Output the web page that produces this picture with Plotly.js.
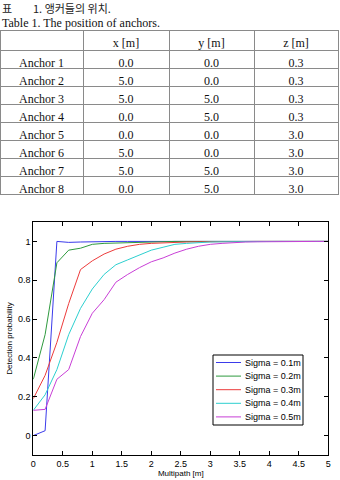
<!DOCTYPE html>
<html>
<head>
<meta charset="utf-8">
<script src="https://cdn.plot.ly/plotly-3.0.1.min.js"></script>
<style>html,body{margin:0;padding:0;background:#fff;}#chart{width:340px;height:480px;}</style>
</head>
<body>
<div id="chart"></div>
<script>
// ---- table data ----
const tableHeader = ['', 'x [m]', 'y [m]', 'z [m]'];
const anchorNames = ['Anchor 1','Anchor 2','Anchor 3','Anchor 4','Anchor 5','Anchor 6','Anchor 7','Anchor 8'];
const anchorX = ['0.0','5.0','5.0','0.0','0.0','5.0','5.0','0.0'];
const anchorY = ['0.0','0.0','5.0','5.0','0.0','0.0','5.0','5.0'];
const anchorZ = ['0.3','0.3','0.3','0.3','3.0','3.0','3.0','3.0'];

// ---- chart data ----
const multipath = [0,0.2,0.4,0.6,0.8,1.0,1.2,1.4,1.6,1.8,2.0,2.2,2.4,2.6,2.8,3.0,3.2,3.4,3.6,3.8,4.0,4.2,4.4,4.6,4.8,5.0];
const sigma01 = [0,0.025,1.0,0.995,0.997,0.999,1,1,1,1,1,1,1,1,1,1,1,1,1,1,1,1,1,1,1,1];
const sigma02 = [0.29,0.52,0.89,0.955,0.965,0.985,0.99,0.992,0.995,0.997,0.998,0.999,1,1,1,1,1,1,1,1,1,1,1,1,1,1];
const sigma03 = [0.19,0.31,0.48,0.68,0.855,0.90,0.935,0.96,0.975,0.985,0.99,0.993,0.995,0.997,0.998,0.999,1,1,1,1,1,1,1,1,1,1];
const sigma04 = [0.13,0.21,0.34,0.52,0.655,0.755,0.83,0.88,0.905,0.93,0.955,0.97,0.985,0.99,0.995,0.997,0.998,0.999,1,1,1,1,1,1,1,1];
const sigma05 = [0.13,0.135,0.29,0.34,0.51,0.63,0.70,0.79,0.83,0.865,0.895,0.915,0.94,0.96,0.975,0.985,0.99,0.995,0.997,0.998,0.999,1,1,1,1,1];
const seriesNames = ['Sigma = 0.1m','Sigma = 0.2m','Sigma = 0.3m','Sigma = 0.4m','Sigma = 0.5m'];
const seriesColors = ['#3b3bea','#2e9a3e','#ec3b3b','#2ccfcf','#c83fd6'];
const xTitle = 'Multipath [m]';
const yTitle = 'Detection probability';

const W = 340, H = 480;
const serif = 'Liberation Serif, Times New Roman, serif';
const sans = 'Liberation Sans, Arial, Helvetica, sans-serif';
const px = v => v / W;
const py = v => 1 - v / H;

const seriesData = [sigma01, sigma02, sigma03, sigma04, sigma05];
const traces = seriesData.map((ys, i) => ({
  type: 'scatter', mode: 'lines', x: multipath, y: ys, name: seriesNames[i],
  line: {color: seriesColors[i], width: 1}, xaxis: 'x', yaxis: 'y', showlegend: false
}));

traces.push({
  type: 'table',
  domain: {x: [0, px(338)], y: [py(196), py(30)]},
  columnwidth: [83, 86, 85, 84],
  header: {
    values: tableHeader,
    align: 'center',
    height: 20,
    line: {color: '#8a8a8a', width: 1},
    fill: {color: '#ffffff'},
    font: {family: serif, size: 12, color: '#111'}
  },
  cells: {
    values: [anchorNames, anchorX, anchorY, anchorZ],
    align: 'center',
    height: 18,
    line: {color: '#8a8a8a', width: 1},
    fill: {color: '#ffffff'},
    font: {family: serif, size: 12, color: '#111'}
  }
});

const axisCommon = {
  showgrid: false, zeroline: false, showline: true, linecolor: '#000', linewidth: 1,
  mirror: 'allticks', ticks: 'inside', ticklen: 4, tickcolor: '#000', tickwidth: 1,
  tickfont: {family: sans, size: 9, color: '#000'}
};

// legend (drawn as paper-positioned decorations, built from the series names/colours)
const legBox = {x0: 213, x1: 303, y0: 355, y1: 425};
const legStep = 13.6, legFirst = 362.5;
const shapes = [{
  type: 'rect', xref: 'paper', yref: 'paper',
  x0: px(legBox.x0), x1: px(legBox.x1), y0: py(legBox.y1), y1: py(legBox.y0),
  line: {color: '#000', width: 1}, fillcolor: '#fff', layer: 'above'
}];
const annotations = [
  {xref: 'paper', yref: 'paper', x: 0, y: py(7.5), xanchor: 'left', yanchor: 'middle',
   text: '표', showarrow: false, font: {family: 'Noto Sans CJK KR', size: 11, color: '#222'}},
  {xref: 'paper', yref: 'paper', x: px(31), y: py(7.5), xanchor: 'left', yanchor: 'middle',
   text: '1. 앵커들의 위치.', showarrow: false, font: {family: 'Noto Sans CJK KR', size: 11, color: '#222'}},
  {xref: 'paper', yref: 'paper', x: 0, y: py(23.5), xanchor: 'left', yanchor: 'middle',
   text: 'Table 1. The position of anchors.', showarrow: false, font: {family: serif, size: 12, color: '#111'}}
];
seriesNames.forEach((nm, i) => {
  const yc = legFirst + i * legStep;
  shapes.push({type: 'line', xref: 'paper', yref: 'paper', x0: px(216), x1: px(241), y0: py(yc), y1: py(yc),
               line: {color: seriesColors[i], width: 1}, layer: 'above'});
  annotations.push({xref: 'paper', yref: 'paper', x: px(243), y: py(yc), xanchor: 'left', yanchor: 'middle',
                    text: nm, showarrow: false, font: {family: sans, size: 9, color: '#000'}});
});

const layout = {
  width: W, height: H,
  margin: {l: 0, r: 0, t: 0, b: 0},
  paper_bgcolor: '#fff', plot_bgcolor: '#fff',
  showlegend: false,
  xaxis: Object.assign({}, axisCommon, {
    domain: [px(33.3), px(328.3)], range: [0, 5], dtick: 0.5, tick0: 0,
    title: {text: xTitle, font: {family: sans, size: 8, color: '#000'}, standoff: 2},
    automargin: false, anchor: 'y'
  }),
  yaxis: Object.assign({}, axisCommon, {
    domain: [py(455), py(222)], range: [-0.1, 1.1], dtick: 0.2, tick0: 0,
    title: {text: yTitle, font: {family: sans, size: 8, color: '#000'}, standoff: 4},
    automargin: false, anchor: 'x'
  }),
  shapes: shapes,
  annotations: annotations
};

Plotly.newPlot('chart', traces, layout, {displayModeBar: false, staticPlot: true});
</script>
</body>
</html>
